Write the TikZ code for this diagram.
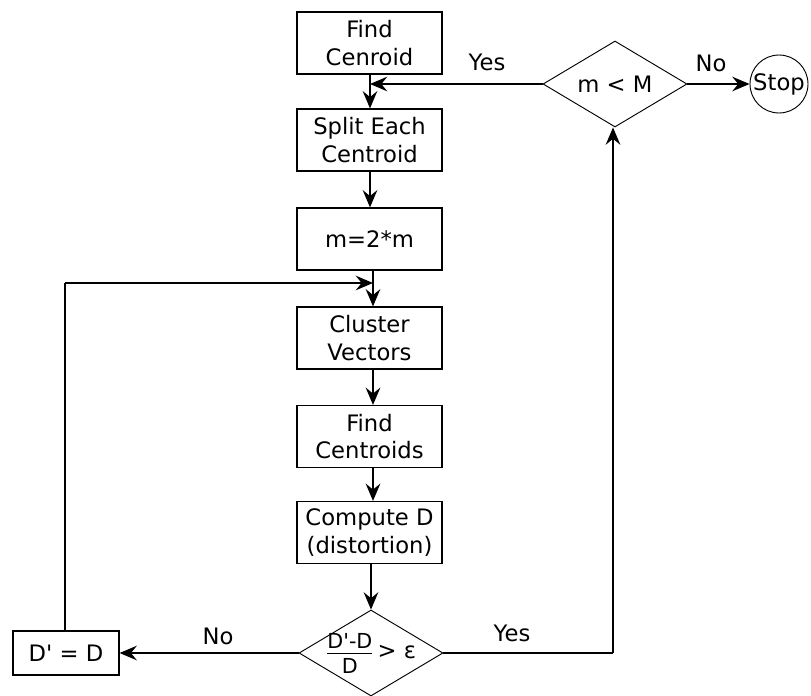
\documentclass[tikz,border=0pt]{standalone}
\usepackage{fontspec}
\setmainfont{DejaVu Sans}[Ligatures=TeXOff]
\usetikzlibrary{shapes.geometric,arrows.meta}
\newcommand{\fracnum}[1]{\hbox{\fontsize{15.5}{17}\selectfont\vrule width 0pt depth 3pt #1}}
\newcommand{\fracden}[1]{\hbox{\fontsize{15.5}{17}\selectfont\vrule width 0pt height 14.5pt #1}}
\begin{document}
\begin{tikzpicture}[x=0.75pt,y=-0.75pt,
  every node/.style={font=\fontsize{17}{20.5}\selectfont},
  stepbox/.style={draw, line width=0.9pt, minimum width=108.75pt, minimum height=46.5pt,
                  inner sep=0pt, align=center},
  decision/.style={draw, diamond, line width=0.7pt, minimum width=108pt, minimum height=64.5pt,
                   inner sep=0pt},
  flow/.style={line width=0.9pt, -{Stealth[length=13pt,width=11pt,inset=4.5pt]}},
  plain/.style={line width=0.9pt},
  lbl/.style={inner sep=0pt}]
\useasboundingbox (0,0) rectangle (811,696);

% main column
\node[stepbox] (cen)   at (369.5,43)  {Find\\Cenroid};
\node[stepbox] (split) at (369.5,140) {Split Each\\Centroid};
\node[stepbox] (dbl)   at (369.5,239) {m=2*m};
\node[stepbox] (clus)  at (369.5,338) {Cluster\\Vectors};
\node[stepbox] (fcen)  at (369.5,436.5) {Find\\Centroids};
\node[stepbox] (comp)  at (369.5,532.5) {Compute D\\(distortion)};

% decisions
\node[decision] (conv) at (371,653) {};
\node at (conv) {$\frac{\fracnum{D'-D}}{\fracden{D}}$\,> ε};
\node[decision] (more) at (615,84) {};
\node at (more) {m < M};

\node[stepbox, minimum width=79.5pt, minimum height=33pt] (upd) at (66,653) {D' = D};
\node[draw, circle, line width=0.7pt, minimum size=43.5pt, inner sep=0pt] (stop) at (779,84) {Stop};

% junction points on the main column
\coordinate (jtop) at (370,84);
\coordinate (jmid) at (373,283);
\coordinate (cornerL) at (65,283);
\coordinate (cornerR) at (613,653);

% connectors
\draw[flow] (cen.south -| jtop) -- (split.north -| jtop);
\draw[flow] (split.south -| jtop) -- (dbl.north -| jtop);
\draw[flow] (dbl.south -| jmid) -- (clus.north -| jmid);
\draw[flow] (clus.south -| jmid) -- (fcen.north -| jmid);
\draw[flow] (fcen.south -| jmid) -- (comp.north -| jmid);
\draw[flow] (comp.south -| conv.north) -- (conv.north);

\draw[flow] (more.west) -- (jtop);
\draw[flow] (more.east) -- (stop.west);
\draw[flow] (conv.west) -- (upd.east);
\draw[plain] (upd.north -| cornerL) -- (cornerL);
\draw[flow] (cornerL) -- (jmid);
\draw[plain] (conv.east) -- (cornerR);
\draw[flow] (cornerR) -- (more.south -| cornerR);

% branch labels
\node[lbl] at (487,62)  {Yes};
\node[lbl] at (711,63)  {No};
\node[lbl] at (218,636) {No};
\node[lbl] at (512,633) {Yes};
\end{tikzpicture}
\end{document}
